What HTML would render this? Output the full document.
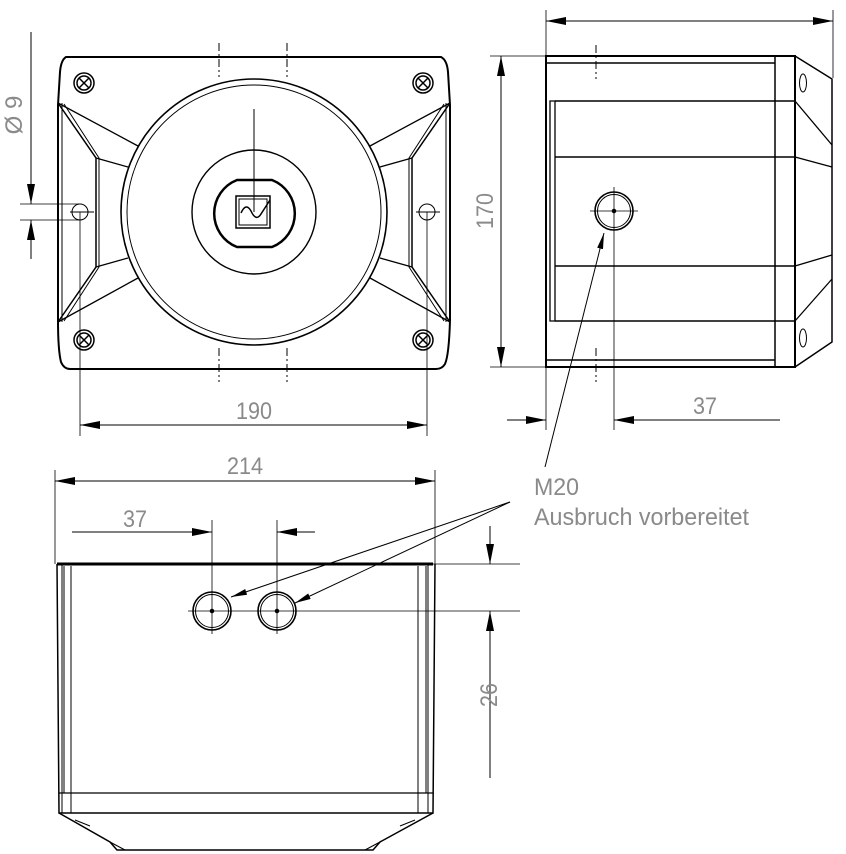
<!DOCTYPE html>
<html><head><meta charset="utf-8"><style>
html,body{margin:0;padding:0;background:#fff;}
svg{display:block;}
text{font-family:"Liberation Sans Narrow","Liberation Sans",sans-serif;fill:#8a8a8a;}
</style></head><body>
<svg width="846" height="854" viewBox="0 0 846 854" xmlns="http://www.w3.org/2000/svg">
<defs>
<marker id="a" viewBox="0 0 20 8" refX="20" refY="4" markerWidth="20" markerHeight="8" markerUnits="userSpaceOnUse" orient="auto-start-reverse"><path d="M0,0 L20,4 L0,8 z" fill="#000"/></marker>
<marker id="s" viewBox="0 0 16 6" refX="16" refY="3" markerWidth="16" markerHeight="6" markerUnits="userSpaceOnUse" orient="auto"><path d="M0,0 L16,3 L0,6 z" fill="#000"/></marker>
</defs>
<g fill="none" stroke="#000" stroke-width="1">
<!-- FRONT VIEW -->
<path d="M66,57 L441,57 Q447,60 448,72 L450,105 L450,320 Q449,355 445,364 Q442,369 436,369 L70,369 Q64,369 61,362 Q58,350 58,320 L58,105 L60,72 Q61,60 66,57 Z" stroke-width="2"/>
<path d="M62,103 L62,322 M446,103 L446,322"/>
<circle cx="254" cy="212" r="133" stroke-width="1.6"/>
<circle cx="254" cy="212" r="127"/>
<circle cx="254" cy="212" r="62" stroke-width="1.4"/>
<path d="M237,180 L272,180 A36,36 0 0 1 272,247 L237,247 A36,36 0 0 1 237,180 Z" stroke-width="2.5"/>
<rect x="236" y="196" width="34" height="32" stroke-width="1.5"/>
<rect x="239" y="199" width="28" height="26"/>
<path d="M241,213 Q246,202 251,211 Q256,222 261,214 L270,200" stroke-width="1.5"/>
<path d="M254,109 L254,212"/>
<!-- ribs left -->
<path d="M58,103 L96,158 L96,267 L58,322" stroke-width="1.5"/>
<path d="M64,104 L99,158 L99,267 L64,321"/>
<path d="M58,103 L138,146 M96,158 L128,167 M96,267 L128,258 M58,322 L138,278" stroke-width="1.3"/>
<!-- ribs right -->
<path d="M450,103 L412,158 L412,267 L450,322" stroke-width="1.5"/>
<path d="M444,104 L409,158 L409,267 L444,321"/>
<path d="M450,103 L370,146 M412,158 L380,167 M412,267 L380,258 M450,322 L370,278" stroke-width="1.3"/>
<!-- screws -->
<g stroke-width="1.5">
<circle cx="84" cy="83" r="10"/><circle cx="84" cy="83" r="7"/><path d="M79,78 L89,88 M89,78 L79,88"/>
<circle cx="423" cy="83" r="10"/><circle cx="423" cy="83" r="7"/><path d="M418,78 L428,88 M428,78 L418,88"/>
<circle cx="84" cy="340" r="10"/><circle cx="84" cy="340" r="7"/><path d="M79,335 L89,345 M89,335 L79,345"/>
<circle cx="423" cy="340" r="10"/><circle cx="423" cy="340" r="7"/><path d="M418,335 L428,345 M428,335 L418,345"/>
</g>
<circle cx="80" cy="212" r="8"/><circle cx="427" cy="212" r="8"/>
<path d="M70,212 L94,212 M416,212 L440,212"/>
<path d="M219,43 L219,77 M287,43 L287,77 M219,348 L219,382 M287,348 L287,382" stroke-dasharray="8,3,2,3"/>
<!-- dims front -->
<path d="M31,32 L31,204" marker-end="url(#a)"/>
<path d="M31,259 L31,220" marker-end="url(#a)"/>
<path d="M20,204 L80,204 M20,220 L80,220" stroke-width="0.8"/>
<path d="M80,212 L80,436 M427,212 L427,436" stroke-width="0.8"/>
<path d="M80,425 L427,425" marker-start="url(#a)" marker-end="url(#a)"/>

<!-- SIDE VIEW -->
<rect x="546" y="56" width="249" height="311" stroke-width="2"/>
<path d="M546,63 L775,63 M546,360 L775,360 M775,56 L775,367" stroke-width="1.5"/>
<path d="M550,101 L555,101 L555,321 L550,321 Z M550,101 L550,321" stroke-width="1.3"/>
<path d="M555,101 L795,101 M555,157 L795,157 M555,266 L795,266 M555,321 L795,321" stroke-width="1.5"/>
<path d="M795,56 L832,79 L832,342 L795,367" stroke-width="1.5"/>
<path d="M795,101 L832,145 M795,157 L832,167 M795,266 L832,255 M795,321 L832,279" stroke-width="1.3"/>
<ellipse cx="803" cy="83" rx="3.5" ry="9"/><ellipse cx="803" cy="338" rx="3.5" ry="9"/>
<circle cx="614" cy="211" r="19" stroke-width="1.6"/><circle cx="614" cy="211" r="16.5"/>
<circle cx="614" cy="211" r="1.8" fill="#000"/>
<path d="M590,211 L638,211 M614,187 L614,430" stroke-width="0.8"/>
<path d="M596,45 L596,79 M596,348 L596,382" stroke-dasharray="8,3,2,3"/>
<path d="M546,10 L546,430 M833,10 L833,78" stroke-width="0.8"/>
<path d="M546,21 L833,21" marker-start="url(#a)" marker-end="url(#a)"/>
<path d="M490,56 L546,56 M490,367 L546,367" stroke-width="0.8"/>
<path d="M501,56 L501,367" marker-start="url(#a)" marker-end="url(#a)"/>
<path d="M507,420 L546,420" marker-end="url(#a)"/>
<path d="M780,420 L614,420" stroke-width="1"/>
<path d="M660,420 L614,420" marker-end="url(#a)"/>
<path d="M545,467 L604,233" marker-end="url(#s)"/>

<!-- BOTTOM VIEW -->
<path d="M57,564 L433,564" stroke-width="3"/>
<path d="M57,564 L59,813 L433,813 L435,564" stroke-width="1.5"/>
<path d="M62,564 L62,813 M64,566 L64,793 M71,566 L71,813 M428,564 L428,813 M426,566 L426,793 M418,566 L418,813" stroke-width="1"/>
<path d="M59,793 L433,793" stroke-width="1.3"/>
<path d="M59,813 L110,842 L117,850 L373,850 L380,842 L433,813" stroke-width="1.5"/>
<path d="M75,820 L90,826 M415,820 L400,826 M110,842 L125,850 M380,842 L365,850" stroke-width="1"/>
<circle cx="212" cy="611" r="19" stroke-width="1.6"/><circle cx="212" cy="611" r="16.5"/>
<circle cx="277" cy="611" r="19" stroke-width="1.6"/><circle cx="277" cy="611" r="16.5"/>
<circle cx="212" cy="611" r="1.8" fill="#000"/><circle cx="277" cy="611" r="1.8" fill="#000"/>
<path d="M188,611 L520,611" stroke-width="0.8"/>
<path d="M212,520 L212,634 M277,520 L277,634" stroke-width="0.8"/>
<path d="M55,470 L55,564 M435,470 L435,564" stroke-width="0.8"/>
<path d="M55,481 L435,481" marker-start="url(#a)" marker-end="url(#a)"/>
<path d="M72,532 L212,532" marker-end="url(#a)"/>
<path d="M315,532 L277,532" marker-end="url(#a)"/>
<path d="M433,564 L520,564" stroke-width="0.8"/>
<path d="M490,526 L490,564" marker-end="url(#a)"/>
<path d="M490,778 L490,611" marker-end="url(#a)"/>
<path d="M510,502 L231,597" marker-end="url(#s)"/>
<path d="M510,502 L295,603" marker-end="url(#s)"/>
</g>
<g font-size="24">
<text x="254" y="419" text-anchor="middle" textLength="36" lengthAdjust="spacingAndGlyphs">190</text>
<text x="705" y="414" text-anchor="middle" textLength="24" lengthAdjust="spacingAndGlyphs">37</text>
<text x="245" y="474" text-anchor="middle" textLength="36" lengthAdjust="spacingAndGlyphs">214</text>
<text x="135" y="527" text-anchor="middle" textLength="24" lengthAdjust="spacingAndGlyphs">37</text>
<text transform="translate(22,115) rotate(-90)" text-anchor="middle">Ø 9</text>
<text transform="translate(493,211) rotate(-90)" text-anchor="middle" textLength="36" lengthAdjust="spacingAndGlyphs">170</text>
<text transform="translate(497,695) rotate(-90)" text-anchor="middle" textLength="24" lengthAdjust="spacingAndGlyphs">26</text>
<text x="534" y="495" textLength="45" lengthAdjust="spacingAndGlyphs">M20</text>
<text x="534" y="525" textLength="215" lengthAdjust="spacingAndGlyphs">Ausbruch vorbereitet</text>
</g>
</svg>
</body></html>
